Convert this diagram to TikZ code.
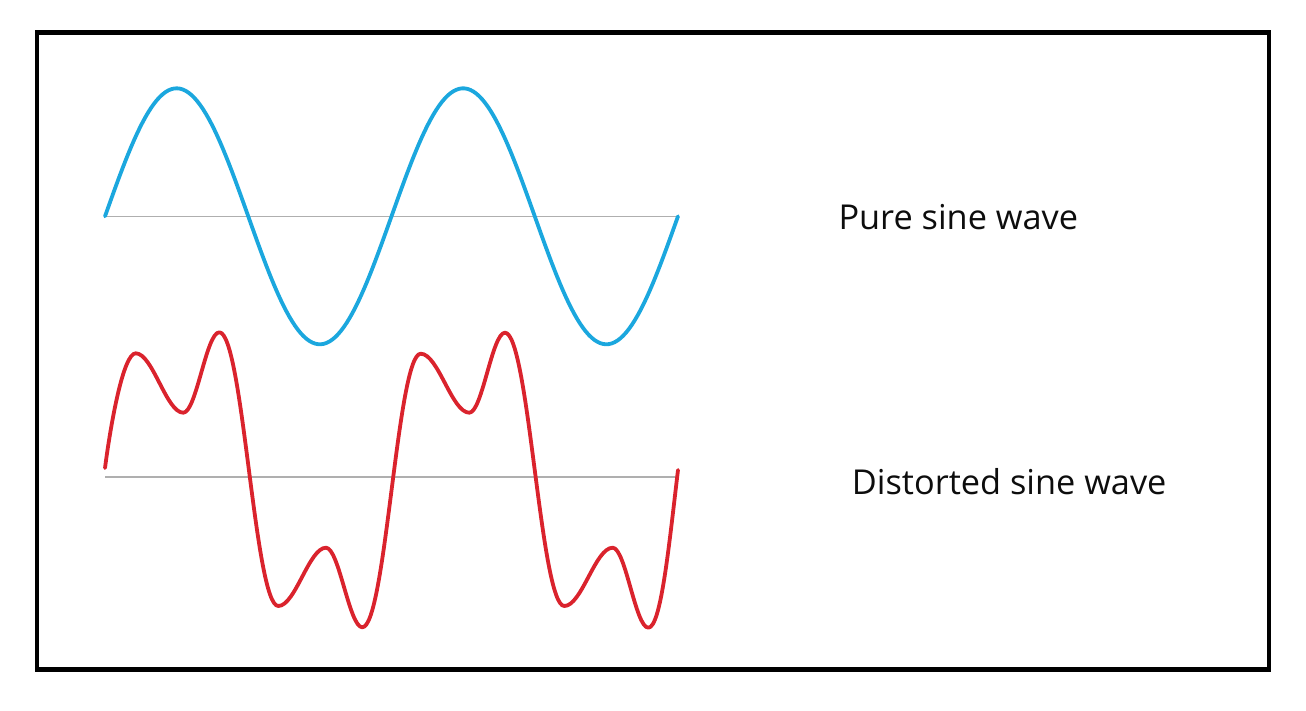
\documentclass[tikz,border=0pt]{standalone}
\usepackage{fontspec}
\setmainfont{Open Sans}
\definecolor{waveblue}{RGB}{27,167,222}
\definecolor{wavered}{RGB}{218,35,45}
\definecolor{axisgray}{RGB}{175,175,175}
\tikzset{
  frame/.style={draw=black, line width=4.2pt},
  axisline/.style={draw=axisgray, line width=1.5pt},
  bluewave/.style={draw=waveblue, line width=3.8pt, line cap=round, line join=round},
  redwave/.style={draw=wavered, line width=3.8pt, line cap=round, line join=round},
  label/.style={inner sep=0pt, anchor=base west, font=\fontsize{34.3}{40}\selectfont, text=black!95}
}
\begin{document}
\begin{tikzpicture}[x=1pt,y=-1pt]
\useasboundingbox (0,0) rectangle (1306,710);
\draw[frame] (36.7,32.5) rectangle (1269.3,669.5);
% axes
\coordinate (a1s) at (105,216.3);
\coordinate (a1e) at (678,216.3);
\coordinate (a2s) at (105,477);
\coordinate (a2e) at (678,477);
\draw[axisline] (a1s) -- (a1e);
\draw[axisline] (a2s) -- (a2e);
% pure sine
\draw[bluewave, domain=0:573, samples=200, variable=\t]
  plot ({105+\t},{216.3-128*sin(1.256545*\t)});
% distorted sine
\draw[redwave] (105,468)
  .. controls (111,422) and (123.4,353.3) .. (135.7,353.3)
  .. controls (152.7,353.3) and (166.3,412.7) .. (183.3,412.7)
  .. controls (196.3,412.7) and (206.3,332.3) .. (219.3,332.3)
  .. controls (242.9,332.3) and (254.7,606) .. (278.3,606)
  .. controls (295.3,606) and (309,547.7) .. (326,547.7)
  .. controls (339,547.7) and (349.3,627.3) .. (362.3,627.3)
  .. controls (385.7,627.3) and (397.3,353.7) .. (420.7,353.7)
  .. controls (438.2,353.7) and (451.8,412.7) .. (469.3,412.7)
  .. controls (482.2,412.7) and (492.1,332.7) .. (505,332.7)
  .. controls (528.7,332.7) and (540.6,606) .. (564.3,606)
  .. controls (581.7,606) and (595.3,547.7) .. (612.7,547.7)
  .. controls (625.5,547.7) and (635.5,627.7) .. (648.3,627.7)
  .. controls (661,627.7) and (669,545) .. (678,470);
% labels
\node[label] (pure) at (838.3,229) {Pure sine wave};
\node[label] (dist) at (851.7,494) {Distorted sine wave};
\end{tikzpicture}
\end{document}
